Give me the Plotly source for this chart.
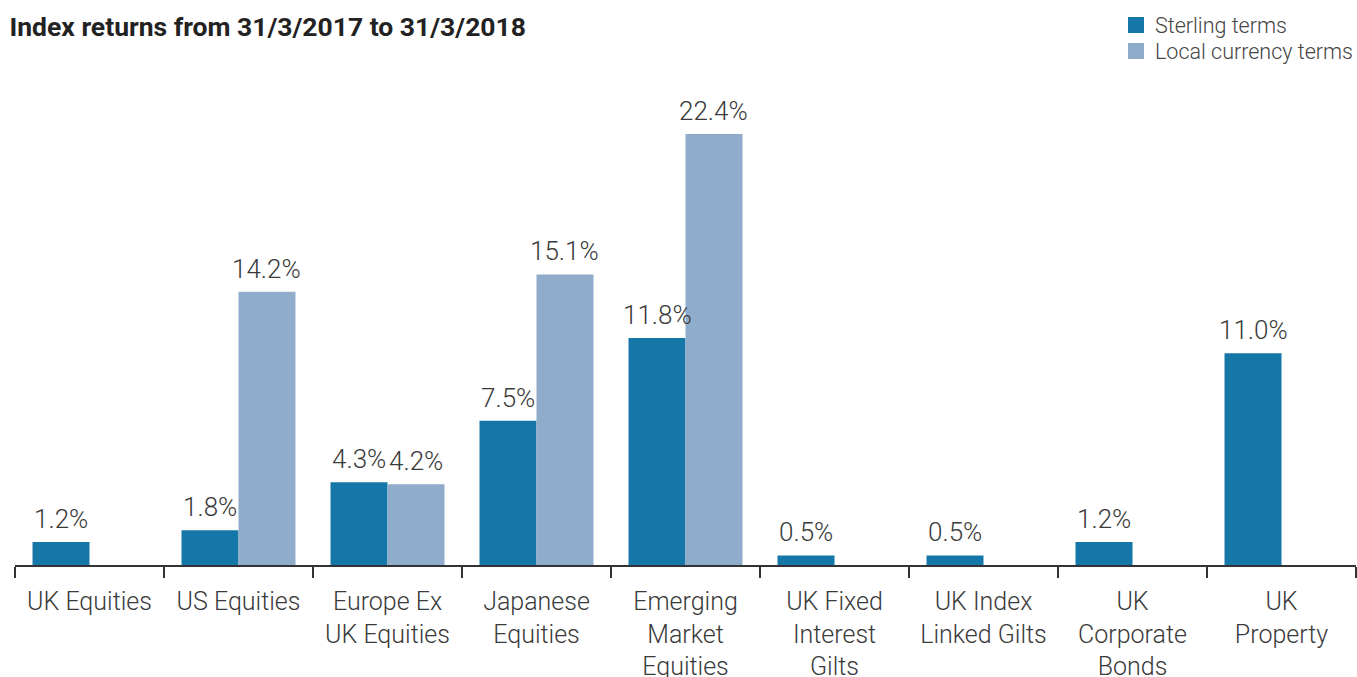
import plotly.graph_objects as go

categories = ["UK Equities", "US Equities", "Europe Ex<br>UK Equities", "Japanese<br>Equities",
              "Emerging<br>Market<br>Equities", "UK Fixed<br>Interest<br>Gilts",
              "UK Index<br>Linked Gilts", "UK<br>Corporate<br>Bonds", "UK<br>Property"]
sterling = [1.2, 1.8, 4.3, 7.5, 11.8, 0.5, 0.5, 1.2, 11.0]
local = [None, 14.2, 4.2, 15.1, 22.4, None, None, None, None]
series_names = ["Sterling terms", "Local currency terms"]

DARK = "#1577A8"
LIGHT = "#8FACCB"
TXT = "#3a3a3a"
FONT = "Roboto"

W, H = 1357, 677
ML, MR, MT, MB = 15, 1, 80, 112
PW = W - ML - MR
PH = H - MT - MB
BARGAP = 0.235

fig = go.Figure()
fig.add_trace(go.Bar(x=categories, y=sterling, name=series_names[0], marker_color=DARK,
                     marker_line_width=0))
fig.add_trace(go.Bar(x=categories, y=local, name=series_names[1], marker_color=LIGHT,
                     marker_line_width=0))

# value labels above bars
half = (1 - BARGAP) / 4 * PW / len(categories)
for vals, sh in ((sterling, -half), (local, half)):
    for c, v in zip(categories, vals):
        if v is None:
            continue
        fig.add_annotation(x=c, y=v, xref="x", yref="y", text=f"{v:.1f}%", showarrow=False,
                           xshift=sh, yshift=6, yanchor="bottom", xanchor="center",
                           font=dict(size=26, color=TXT, family=FONT, weight=300))

# legend drawn manually (paper coordinates)
def px_x(x):
    return (x - ML) / PW

def px_y(y):
    return (H - MB - y) / PH

for i, (name, col) in enumerate(zip(series_names, [DARK, LIGHT])):
    yc = 25 + 26 * i
    fig.add_shape(type="rect", xref="paper", yref="paper",
                  x0=px_x(1128), x1=px_x(1144), y0=px_y(yc - 8), y1=px_y(yc + 8),
                  fillcolor=col, line_width=0)
    fig.add_annotation(xref="paper", yref="paper", x=px_x(1153), y=px_y(yc + 1), text=name,
                       showarrow=False, xanchor="left", yanchor="middle",
                       font=dict(size=21.5, color="#444444", family=FONT, weight=300))

fig.update_layout(
    width=W, height=H,
    margin=dict(l=ML, r=MR, t=MT, b=MB),
    paper_bgcolor="white", plot_bgcolor="white",
    barmode="group", bargap=BARGAP, bargroupgap=0,
    font=dict(family=FONT, color=TXT),
    title=dict(text="Index returns from 31/3/2017 to 31/3/2018", x=0.007, xanchor="left",
               y=0.96, yanchor="middle",
               font=dict(size=26.5, color="#222222", family=FONT, weight=700)),
    showlegend=False,
)
fig.update_xaxes(showline=True, linecolor="#333333", linewidth=2, ticks="outside",
                 tickson="boundaries", ticklen=11, tickwidth=2, tickcolor="#333333",
                 ticklabelstandoff=13,
                 tickfont=dict(size=25, color=TXT, family=FONT, weight=300),
                 showgrid=False, automargin=False, fixedrange=True)
fig.update_yaxes(range=[0, 25.2], visible=False, showgrid=False, zeroline=False, fixedrange=True)

fig.write_html("out.html", config={"displayModeBar": False})
